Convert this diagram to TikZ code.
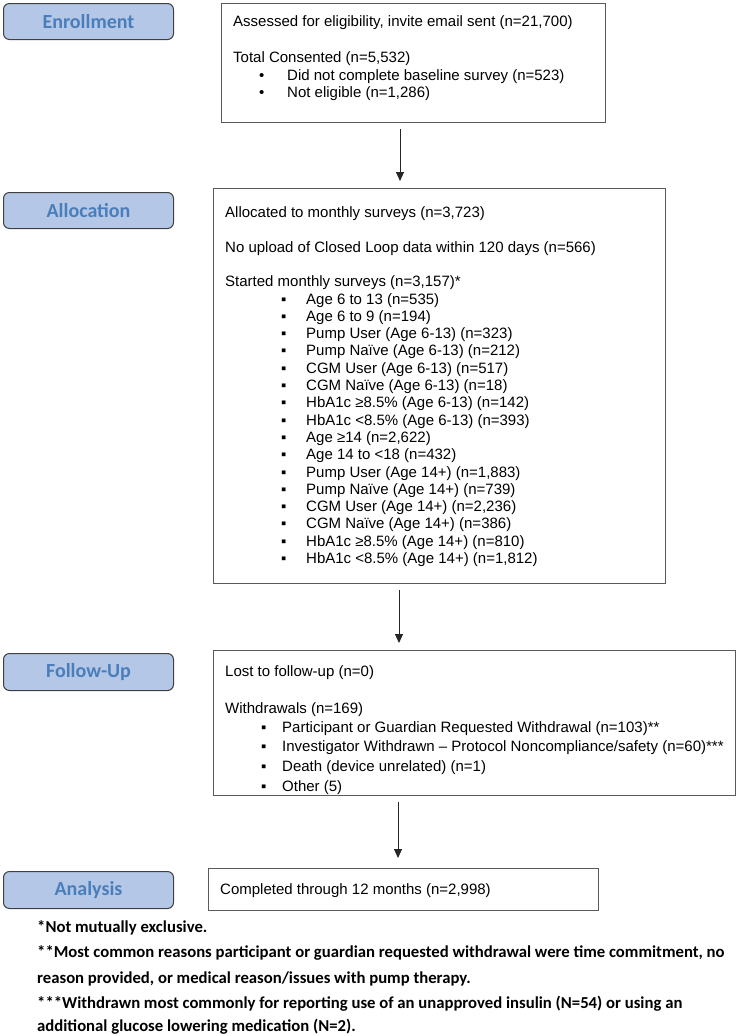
\documentclass[tikz,border=0pt]{standalone}
\usepackage{fontspec}
\setmainfont{Liberation Sans}
\newfontfamily\calib{Carlito}
\usetikzlibrary{arrows.meta,calc}
\definecolor{stagefill}{HTML}{B4C7E7}
\definecolor{stagetext}{HTML}{4A7EBB}
\definecolor{stageline}{HTML}{404040}
\definecolor{boxline}{HTML}{5A5A5A}
\definecolor{arrowc}{HTML}{262626}
\begin{document}
\begin{tikzpicture}[x=1pt,y=-1pt,
  stage/.style={draw=stageline, line width=1pt, fill=stagefill, rounded corners=6pt, anchor=north west, minimum width=170pt, minimum height=36pt, inner sep=0pt, font=\calib\bfseries\fontsize{20}{24}\selectfont, text=stagetext},
  cbox/.style={draw=boxline, line width=1.2pt, anchor=north west, inner sep=0pt},
  txt/.style={anchor=base west, inner sep=0pt, font=\fontsize{15}{17}\selectfont, text=black},
  note/.style={anchor=base west, inner sep=0pt, font=\calib\bfseries\fontsize{16.7}{20}\selectfont, text=black},
  arr/.style={draw=arrowc, line width=1pt, -{Triangle[width=8pt,length=9pt]}}
]
\useasboundingbox (0,0) rectangle (740,1036);
\fill[white] (0,0) rectangle (740,1036);

% stage labels
\node[stage] (sEnr) at (3,3) {Enrollment};
\node[stage] (sAll) at (3,192) {Allocation};
\node[stage, minimum height=37pt] (sFol) at (3,653) {Follow-Up};
\node[stage, minimum height=37pt] (sAna) at (3,871) {Analysis};

% content boxes
\node[cbox, minimum width=384pt, minimum height=119pt] (bEnr) at (221,3) {};
\node[cbox, minimum width=452pt, minimum height=395pt] (bAll) at (213,188) {};
\node[cbox, minimum width=522pt, minimum height=145pt] (bFol) at (213,650) {};
\node[cbox, minimum width=390pt, minimum height=42pt] (bAna) at (208,868) {};

% arrows
\coordinate (xa) at (400,0);
\coordinate (xb) at (399,0);
\coordinate (xc) at (398,0);
\draw[arr, shorten <=6pt, shorten >=7pt] (bEnr.south -| xa) -- (bAll.north -| xa);
\draw[arr, shorten <=6pt, shorten >=7pt] (bAll.south -| xb) -- (bFol.north -| xb);
\draw[arr, shorten <=6pt, shorten >=10pt] (bFol.south -| xc) -- (bAna.north -| xc);

% enrollment text
\node[txt] (e1) at (233,27) {Assessed for eligibility, invite email sent (n=21,700)};
\node[txt] (e2) at (233,62.5) {Total Consented (n=5,532)};
\node[txt] (eb1) at (259,80) {•};
\node[txt] (e3) at (287,80) {Did not complete baseline survey (n=523)};
\node[txt] (eb2) at (259,97) {•};
\node[txt] (e4) at (287,97) {Not eligible (n=1,286)};

% allocation text
\node[txt] (a1) at (225,217.5) {Allocated to monthly surveys (n=3,723)};
\node[txt] (a2) at (225,252) {No upload of Closed Loop data within 120 days (n=566)};
\node[txt] (a3) at (225,286.5) {Started monthly surveys (n=3,157)*};
\foreach \t [count=\i from 0] in {
  {Age 6 to 13 (n=535)},
  {Age 6 to 9 (n=194)},
  {Pump User (Age 6-13) (n=323)},
  {Pump Naïve (Age 6-13) (n=212)},
  {CGM User (Age 6-13) (n=517)},
  {CGM Naïve (Age 6-13) (n=18)},
  {HbA1c ≥8.5\% (Age 6-13) (n=142)},
  {HbA1c <8.5\% (Age 6-13) (n=393)},
  {Age ≥14 (n=2,622)},
  {Age 14 to <18 (n=432)},
  {Pump User (Age 14+) (n=1,883)},
  {Pump Naïve (Age 14+) (n=739)},
  {CGM User (Age 14+) (n=2,236)},
  {CGM Naïve (Age 14+) (n=386)},
  {HbA1c ≥8.5\% (Age 14+) (n=810)},
  {HbA1c <8.5\% (Age 14+) (n=1,812)}} {
  \node[txt] (ab\i) at (281,304+17.3*\i) {▪};
  \node[txt] (ai\i) at (306,304+17.3*\i) {\t};
}

% follow-up text
\node[txt] (f1) at (225,676) {Lost to follow-up (n=0)};
\node[txt] (f2) at (225,713) {Withdrawals (n=169)};
\foreach \t [count=\i from 0] in {
  {Participant or Guardian Requested Withdrawal (n=103)**},
  {Investigator Withdrawn – Protocol Noncompliance/safety (n=60)***},
  {Death (device unrelated) (n=1)},
  {Other (5)}} {
  \node[txt] (fb\i) at (261,732+19.7*\i) {▪};
  \node[txt] (fi\i) at (282,732+19.7*\i) {\t};
}

% analysis text
\node[txt] (n1) at (220,894) {Completed through 12 months (n=2,998)};

% footnotes
\node[note] (fn1) at (37,932) {*Not mutually exclusive.};
\node[note] (fn2) at (37,957) {**Most common reasons participant or guardian requested withdrawal were time commitment, no};
\node[note] (fn3) at (37,983) {reason provided, or medical reason/issues with pump therapy.};
\node[note] (fn4) at (37,1008) {***Withdrawn most commonly for reporting use of an unapproved insulin (N=54) or using an};
\node[note] (fn5) at (37,1031) {additional glucose lowering medication (N=2).};
\end{tikzpicture}
\end{document}
